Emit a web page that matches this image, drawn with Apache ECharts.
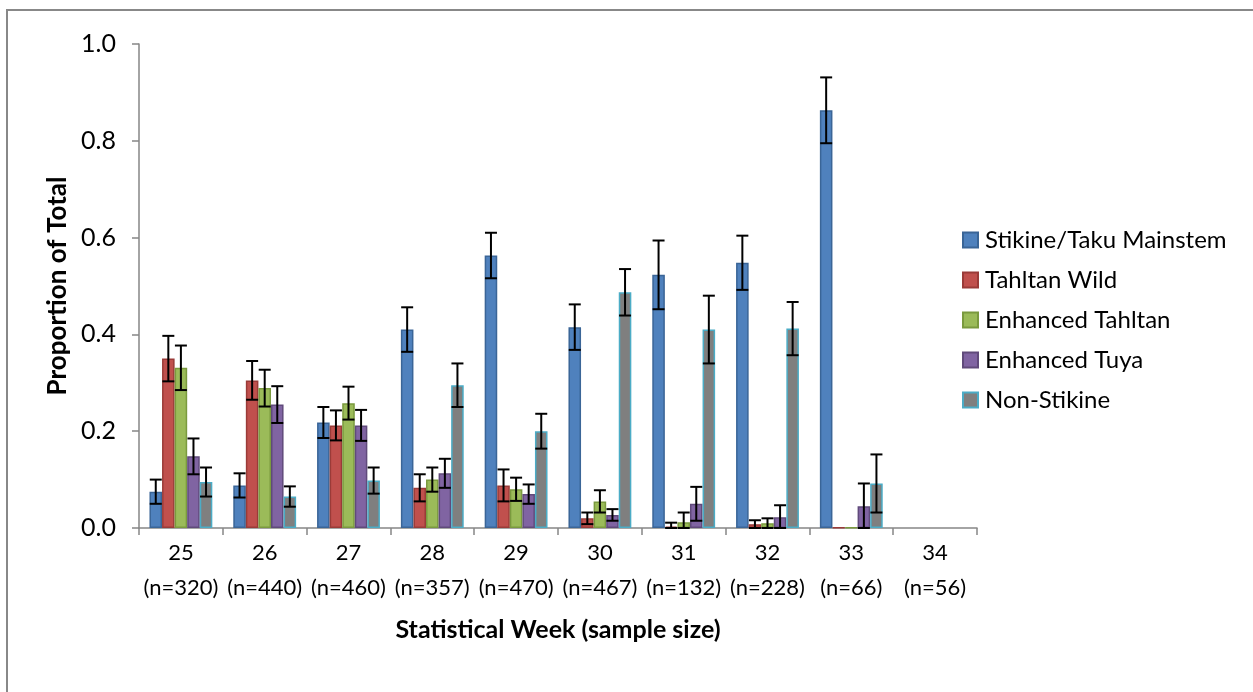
<!DOCTYPE html>
<html><head><meta charset="utf-8">
<script src="https://cdn.jsdelivr.net/npm/echarts@6/dist/echarts.min.js"></script>
<style>html,body{margin:0;padding:0;background:#fff}#c{width:1253px;height:692px}</style>
</head><body><div id="c"></div>
<script>
const weeks = ['25','26','27','28','29','30','31','32','33','34'];
const sampleSizes = ['320','440','460','357','470','467','132','228','66','56'];
const seriesNames = ['Stikine/Taku Mainstem','Tahltan Wild','Enhanced Tahltan','Enhanced Tuya','Non-Stikine'];
const stikineTaku   = [0.075,0.088,0.218,0.410,0.563,0.415,0.523,0.548,0.863,null];
const tahltanWild   = [0.350,0.305,0.212,0.083,0.088,0.020,0.003,0.008,0.001,null];
const enhTahltan    = [0.331,0.289,0.258,0.100,0.080,0.055,0.012,0.010,0.001,null];
const enhTuya       = [0.148,0.255,0.212,0.113,0.070,0.027,0.050,0.022,0.045,null];
const nonStikine    = [0.095,0.065,0.098,0.295,0.200,0.487,0.410,0.412,0.092,null];
const errStikine    = [0.025,0.025,0.032,0.046,0.047,0.047,0.071,0.056,0.068,null];
const errTahltan    = [0.047,0.040,0.031,0.028,0.033,0.012,0.008,0.008,null,null];
const errEnhTahltan = [0.046,0.038,0.034,0.025,0.024,0.023,0.020,0.010,null,null];
const errEnhTuya    = [0.037,0.038,0.032,0.030,0.020,0.012,0.035,0.025,0.047,null];
const errNonStikine = [0.030,0.021,0.027,0.045,0.036,0.048,0.070,0.055,0.060,null];

const values = [stikineTaku, tahltanWild, enhTahltan, enhTuya, nonStikine];
const errors = [errStikine, errTahltan, errEnhTahltan, errEnhTuya, errNonStikine];
const fills = ['#4F81BD','#C0504D','#9BBB59','#8064A2','#7F7F7F'];
const borders = ['#3A6597','#9A3B38','#7A9A3E','#604A7B','#4BACC6'];
const FONT = 'Lato, "Open Sans", sans-serif';

const categories = weeks.map((w,i)=> w + '\n(n=' + sampleSizes[i] + ')');

const series = [];
values.forEach((vals, s) => {
  series.push({
    name: seriesNames[s], type: 'bar', data: vals,
    barGap: '0%', barCategoryGap: '25%',
    itemStyle: { color: fills[s], borderColor: borders[s], borderWidth: 1.5 },
    emphasis: { disabled: true }
  });
});
values.forEach((vals, s) => {
  const data = vals.map((v,i)=> (v==null || errors[s][i]==null) ? null : [i, v, errors[s][i]]).filter(d=>d);
  series.push({
    type: 'custom', name: 'err' + s, z: 10, silent: true,
    data: data,
    renderItem: function (params, api) {
      const i = api.value(0), v = api.value(1), e = api.value(2);
      const band = api.size([1, 0])[0];
      const bw = band * 0.75 / 5;
      const off = (s - 2) * bw;
      const top = api.coord([i, v + e]);
      const bot = api.coord([i, Math.max(0, v - e)]);
      const x = top[0] + off;
      const hw = 6;
      const st = { stroke: '#000', lineWidth: 2 };
      return { type: 'group', children: [
        { type: 'line', shape: { x1: x, y1: top[1], x2: x, y2: bot[1] }, style: st },
        { type: 'line', shape: { x1: x - hw, y1: top[1], x2: x + hw, y2: top[1] }, style: st },
        { type: 'line', shape: { x1: x - hw, y1: bot[1], x2: x + hw, y2: bot[1] }, style: st }
      ]};
    }
  });
});

const chart = echarts.init(document.getElementById('c'), null, { renderer: 'canvas' });
chart.setOption({
  animation: false,
  backgroundColor: '#fff',
  textStyle: { fontFamily: FONT },
  graphic: [{ type: 'rect', shape: { x: 7, y: 10, width: 1400, height: 800 },
    style: { fill: 'none', stroke: '#888', lineWidth: 2 }, silent: true }],
  grid: { left: 139, right: 276, top: 44, bottom: 164, containLabel: false },
  legend: {
    orient: 'vertical', left: 957, top: 223, itemGap: 16,
    itemWidth: 15, itemHeight: 15, icon: 'rect',
    data: seriesNames,
    textStyle: { fontSize: 24, color: '#000', fontFamily: FONT, padding: [0,0,0,2] }
  },
  xAxis: {
    type: 'category', data: categories,
    name: 'Statistical Week (sample size)', nameLocation: 'middle', nameGap: 89,
    nameTextStyle: { fontSize: 25, fontWeight: 'bold', color: '#000', fontFamily: FONT },
    axisLine: { lineStyle: { color: '#868686', width: 1.5 } },
    axisTick: { show: true, alignWithLabel: false, length: 7, inside: false, lineStyle: { color: '#868686', width: 1.5 } },
    axisLabel: { fontSize: 22, color: '#000', lineHeight: 35, margin: 7, fontFamily: FONT, interval: 0 }
  },
  yAxis: {
    type: 'value', min: 0, max: 1, interval: 0.2,
    name: 'Proportion of Total', nameLocation: 'middle', nameGap: 68,
    nameTextStyle: { fontSize: 26, fontWeight: 'bold', color: '#000', fontFamily: FONT },
    axisLine: { show: true, lineStyle: { color: '#868686', width: 1.5 } },
    axisTick: { show: true, length: 7, lineStyle: { color: '#868686', width: 1.5 } },
    splitLine: { show: false },
    axisLabel: { fontSize: 25, color: '#000', margin: 23, fontFamily: FONT,
      formatter: v => v.toFixed(1) }
  },
  series: series
});
</script></body></html>
